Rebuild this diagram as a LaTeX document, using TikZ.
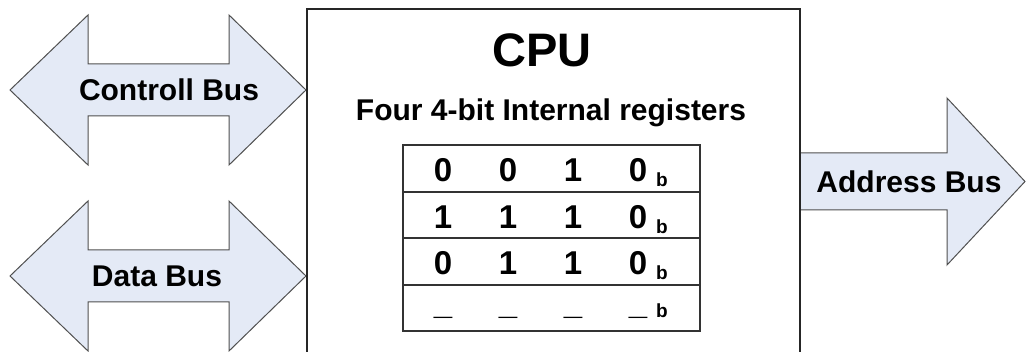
\documentclass[tikz,border=0pt]{standalone}
\usepackage{fontspec}
\setmainfont{Liberation Sans}
\definecolor{busfill}{RGB}{228,234,246}
\definecolor{busline}{RGB}{80,80,80}
\begin{document}
\begin{tikzpicture}[x=1pt,y=-1pt,
    bus/.style = {draw=busline, fill=busfill, line width=1pt, line join=miter},
    busname/.style = {font=\bfseries\fontsize{30}{32}\selectfont, inner sep=0pt},
    regbit/.style = {font=\bfseries\fontsize{33}{35}\selectfont, inner sep=0pt},
    regsub/.style = {font=\bfseries\fontsize{19}{21}\selectfont, inner sep=0pt},
    regline/.style = {draw=black!80, line width=1.5pt}
  ]
  \useasboundingbox (0,0) rectangle (1026,352);

  \draw[bus] (10,90) -- (88,15) -- (88,64) -- (229,64) -- (229,15) -- (306,90)
    -- (229,165) -- (229,116) -- (88,116) -- (88,165) -- cycle;
  \draw[bus] (10,276) -- (88,201) -- (88,250) -- (229,250) -- (229,201) -- (306,276)
    -- (229,351) -- (229,302) -- (88,302) -- (88,351) -- cycle;
  \draw[bus] (800,153) -- (947,153) -- (947,98) -- (1025,181.5) -- (947,265)
    -- (947,210) -- (800,210) -- cycle;

  \draw[draw=black!85, line width=1.5pt] (307,9) rectangle (800,370);

  \node[busname] (ctrl) at (169,90) {Controll Bus};
  \node[busname] (data) at (157,276) {Data Bus};
  \node[busname] (addr) at (909,182) {Address Bus};

  \node[font=\bfseries\fontsize{47}{50}\selectfont, inner sep=0pt] (cpu) at (542,50) {CPU};
  \node[font=\bfseries\fontsize{30}{32}\selectfont, inner sep=0pt] (regs) at (551,113) {Four 4-bit Internal registers};

  \draw[regline] (403,145) rectangle (700,331);
  \draw[regline] (403,192) -- (700,192);
  \draw[regline] (403,238) -- (700,238);
  \draw[regline] (403,285) -- (700,285);

  \foreach \word [count=\row] in {{0,0,1,0},{1,1,1,0},{0,1,1,0}} {
    \foreach \v [count=\col] in \word
      \node[regbit, anchor=base] (r\row c\col) at (378+65*\col, 135.5+46.5*\row) {\v};
    \node[regsub, anchor=base] (r\row b) at (662, 140.5+46.5*\row) {b};
  }
  \foreach \col in {1,...,4}
    \node[regbit] (r4c\col) at (378+65*\col, 317) {\_};
  \node[regsub] (r4b) at (662,311) {b};
\end{tikzpicture}
\end{document}
